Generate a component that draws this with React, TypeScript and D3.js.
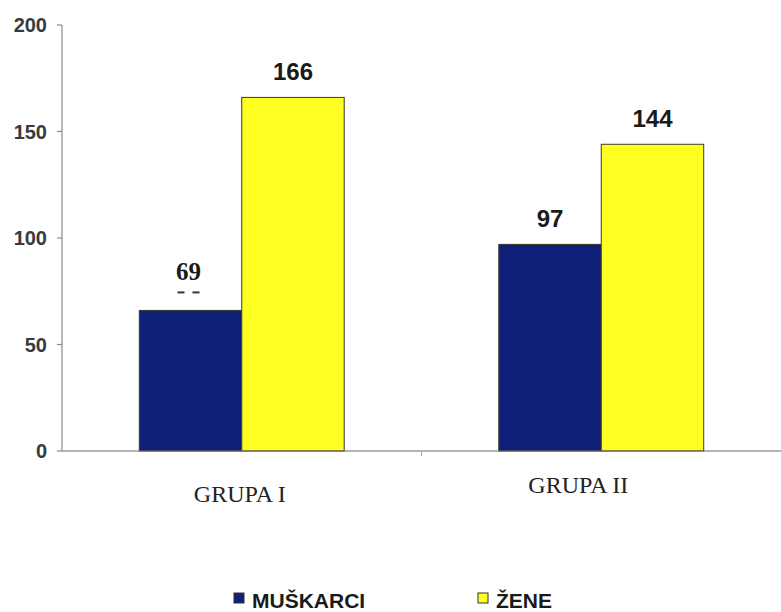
import React from "react";
import * as d3 from "d3";

const categories = ["GRUPA I", "GRUPA II"];
const seriesNames = ["MUŠKARCI", "ŽENE"];
const muskarci = [66, 97];
const zene = [166, 144];
const muskarciLabels = ["69", "97"];
const zeneLabels = ["166", "144"];
const yTicks = [0, 50, 100, 150, 200];

const W = 781;
const H = 612;
const colors = ["#0e1f7a", "#ffff22"];
const SANS = "'Liberation Sans', Arial, sans-serif";
const SERIF = "'Liberation Serif', 'Times New Roman', serif";

export default function App() {
  const x0 = d3.scaleBand<string>().domain(categories).range([62, 781]).paddingInner(0.43).paddingOuter(0.215);
  const x1 = d3.scaleBand<string>().domain(seriesNames).range([0, x0.bandwidth()]).padding(0);
  const y = d3.scaleLinear().domain([0, 200]).range([451, 25]);

  const series = [
    { name: seriesNames[0], values: muskarci, labels: muskarciLabels, color: colors[0] },
    { name: seriesNames[1], values: zene, labels: zeneLabels, color: colors[1] },
  ];

  const catLabelShift = [
    { dx: -2, dy: 51 },
    { dx: -23, dy: 42 },
  ];

  const midTick = (x0(categories[0])! + x0.bandwidth() + x0(categories[1])!) / 2;

  return (
    <div style={{ position: "fixed", left: 0, top: 0, width: W, height: H, background: "#fff" }}>
      <svg width={W} height={H} viewBox={`0 0 ${W} ${H}`}>
        <rect width={W} height={H} fill="#fff" />
        {/* y axis */}
        <line x1={62} x2={62} y1={y(200)} y2={y(0)} stroke="#8a8a8a" strokeWidth={1.2} />
        {yTicks.map((t) => (
          <g key={t}>
            <line x1={57} x2={62} y1={y(t)} y2={y(t)} stroke="#8a8a8a" strokeWidth={1.2} />
            <text x={47} y={y(t)} dy="0.36em" textAnchor="end" fontFamily={SANS} fontWeight="bold" fontSize={20} fill="#3a3a3a">
              {t}
            </text>
          </g>
        ))}
        {/* bars */}
        {categories.map((c, i) => (
          <g key={c} transform={`translate(${x0(c)},0)`}>
            {series.map((s) => (
              <rect
                key={s.name}
                x={x1(s.name)}
                y={y(s.values[i])}
                width={x1.bandwidth()}
                height={y(0) - y(s.values[i])}
                fill={s.color}
                stroke="#3a3a2a"
                strokeWidth={1}
              />
            ))}
            {series.map((s, si) => {
              const cx = x1(s.name)! + x1.bandwidth() / 2;
              const top = y(s.values[i]);
              const isEdited = si === 0 && i === 0;
              return (
                <g key={s.name + "l"}>
                  <text
                    x={cx - (isEdited ? 2 : 0)}
                    y={isEdited ? top - 30 : top - 17}
                    textAnchor="middle"
                    fontFamily={isEdited ? SERIF : SANS}
                    fontWeight="bold"
                    fontSize={isEdited ? 25 : 24}
                    fill="#1a1a1a"
                  >
                    {s.labels[i]}
                  </text>
                  {isEdited && (
                    <g stroke="#333" strokeWidth={2}>
                      <line x1={cx - 13} x2={cx - 6} y1={top - 18} y2={top - 18} />
                      <line x1={cx + 2} x2={cx + 9} y1={top - 18} y2={top - 18} />
                    </g>
                  )}
                </g>
              );
            })}
            <text
              x={x0.bandwidth() / 2 + catLabelShift[i].dx}
              y={y(0) + catLabelShift[i].dy}
              textAnchor="middle"
              fontFamily={SERIF}
              fontSize={24}
              fill="#222"
            >
              {c}
            </text>
          </g>
        ))}
        {/* x axis */}
        <line x1={62} x2={781} y1={y(0)} y2={y(0)} stroke="#6a6a6a" strokeWidth={1.2} />
        <line x1={midTick} x2={midTick} y1={y(0)} y2={y(0) + 5} stroke="#aaa" strokeWidth={1} />
        {/* legend */}
        {series.map((s, i) => {
          const lx = i === 0 ? 234 : 478;
          return (
            <g key={s.name}>
              <rect x={lx} y={593} width={10} height={10} fill={s.color} stroke="#333" strokeWidth={1} />
              <text x={lx + 18} y={608} fontFamily={SANS} fontWeight="bold" fontSize={21} fill="#1a1a1a">
                {s.name}
              </text>
            </g>
          );
        })}
      </svg>
    </div>
  );
}
